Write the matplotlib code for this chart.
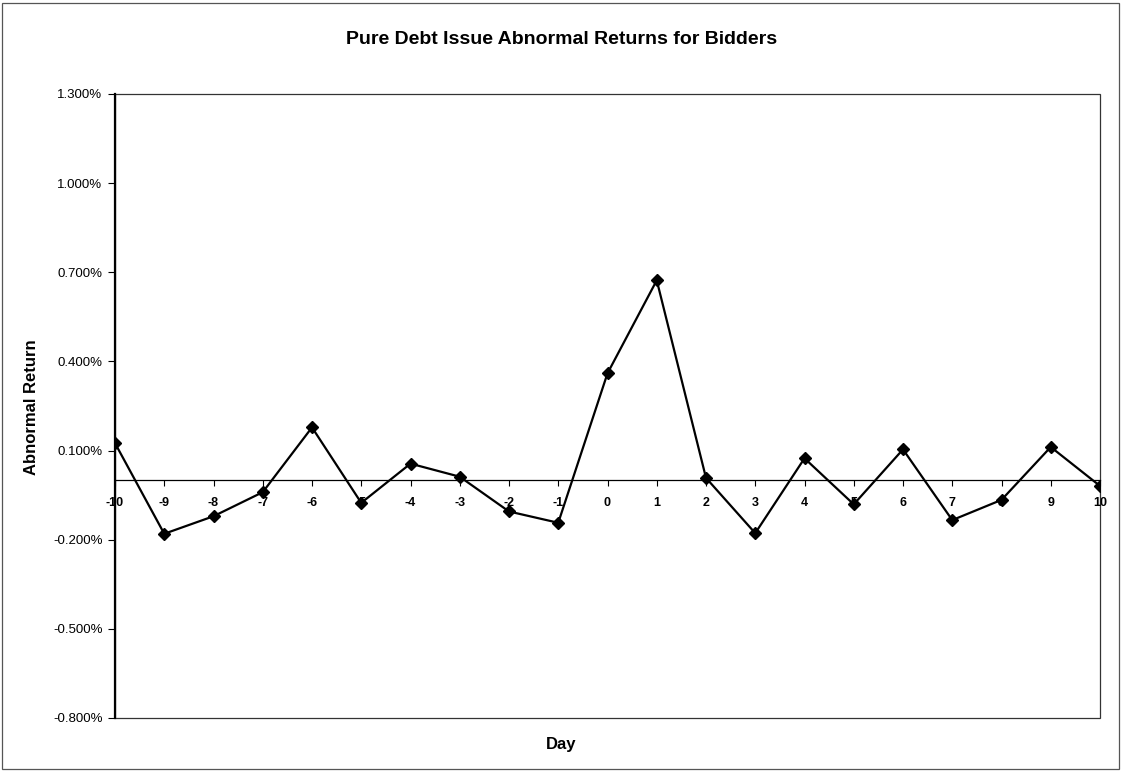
import matplotlib
matplotlib.use("Agg")
import matplotlib.pyplot as plt
from matplotlib.patches import Rectangle
from matplotlib.ticker import FuncFormatter

days = list(range(-10, 11))
abnormal_return = [0.125, -0.180, -0.121, -0.040, 0.178, -0.076, 0.056, 0.012,
                   -0.105, -0.143, 0.360, 0.673, 0.008, -0.178, 0.074, -0.081,
                   0.104, -0.134, -0.066, 0.112, -0.019]
y_ticks = [-0.8, -0.5, -0.2, 0.1, 0.4, 0.7, 1.0, 1.3]

title = "Pure Debt Issue Abnormal Returns for Bidders"
xlabel = "Day"
ylabel = "Abnormal Return"

plt.rcParams['font.family'] = ['Liberation Sans', 'DejaVu Sans']

fig = plt.figure(figsize=(11.23, 7.72), dpi=100)
ax = fig.add_axes([115/1123, 1 - 718/772, (1100 - 115)/1123, (718 - 94)/772])

ax.plot(days, abnormal_return, color='black', lw=1.6, marker='D',
        markersize=6, markerfacecolor='black', markeredgecolor='black', zorder=5)

ax.set_xlim(-10, 10)
ax.set_ylim(-0.8, 1.3)
ax.set_yticks(y_ticks)
ax.yaxis.set_major_formatter(FuncFormatter(lambda v, p: f"{v:.3f}%"))
ax.set_xticks(days)
ax.set_xticklabels([str(d) for d in days])

# bottom spine acts as zero line
ax.spines['bottom'].set_position(('data', 0))
ax.spines['bottom'].set_linewidth(0.9)
ax.spines['left'].set_linewidth(1.6)
ax.spines['top'].set_visible(False)
ax.spines['right'].set_visible(False)
ax.add_patch(Rectangle((0, 0), 1, 1, transform=ax.transAxes, fill=False,
                       edgecolor='#333333', lw=0.9, zorder=1, clip_on=False))

ax.tick_params(axis='x', direction='out', length=4, width=0.8, pad=8,
               labelsize=9)
for lbl in ax.get_xticklabels():
    lbl.set_fontweight('bold')
ax.tick_params(axis='y', direction='out', length=5, width=0.8, pad=4,
               labelsize=9.5)

fig.text(0.5, 1 - 40/772, title, ha='center', va='center',
         fontsize=14, fontweight='bold')
fig.text(561/1123, 1 - 745/772, xlabel, ha='center', va='center',
         fontsize=12, fontweight='bold')
fig.text(32/1123, 1 - 407/772, ylabel, ha='center', va='center',
         rotation=90, fontsize=12, fontweight='bold')

fig.add_artist(Rectangle((2/1123, 3/772), 1117/1123, 766/772,
                         transform=fig.transFigure, fill=False,
                         edgecolor='#555555', lw=0.9))

fig.savefig("out.png", dpi=100)
